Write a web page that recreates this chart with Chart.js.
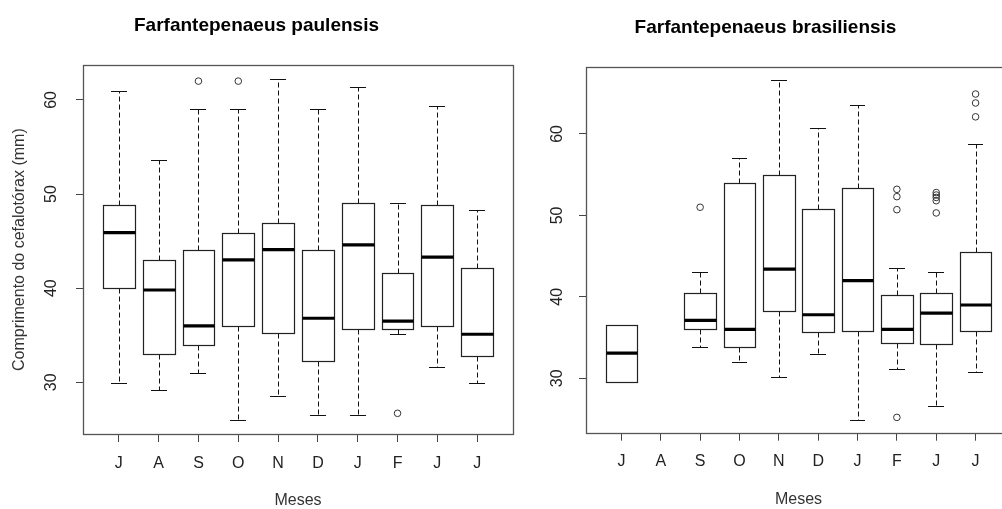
<!DOCTYPE html>
<html><head><meta charset="utf-8">
<script src="https://cdn.jsdelivr.net/npm/chart.js@4.4.1/dist/chart.umd.min.js"></script>
<style>
html,body{margin:0;padding:0;background:#fff;overflow:hidden;width:1002px;height:509px}
#wrap{position:relative;width:1002px;height:509px;overflow:hidden;background:#fff}
.box{position:absolute;top:0;height:509px}
#c1box{left:0;width:520px}
#c2box{left:520px;width:520px}
canvas{display:block}
</style></head><body>
<div id="wrap">
<div class="box" id="c1box"><canvas id="c1" width="520" height="509"></canvas></div>
<div class="box" id="c2box"><canvas id="c2" width="520" height="509"></canvas></div>
</div>
<script>
// ---- shared labels ----
const months = ['J','A','S','O','N','D','J','F','J','J'];
const yTicks = [30, 40, 50, 60];
const yTitle = 'Comprimento do cefalotórax (mm)';
const xTitle = 'Meses';

// ---- Farfantepenaeus paulensis ----
const pauTitle = 'Farfantepenaeus paulensis';
const pauLow  = [29.9, 29.2, 31.0, 26.0, 28.5, 26.5, 26.5, 35.1, 31.6, 29.9];
const pauQ1   = [40.0, 33.0, 34.0, 36.0, 35.2, 32.3, 35.7, 35.7, 36.0, 32.8];
const pauMed  = [45.9, 39.8, 36.0, 43.0, 44.1, 36.8, 44.6, 36.5, 43.3, 35.1];
const pauQ3   = [48.8, 43.0, 44.0, 45.9, 46.9, 44.1, 49.0, 41.6, 48.8, 42.1];
const pauHigh = [61.0, 53.6, 59.0, 59.0, 62.2, 59.0, 61.4, 49.0, 59.4, 48.3];
const pauOutMonth = [3, 4, 8];
const pauOutValue = [62.0, 62.0, 26.7];

// ---- Farfantepenaeus brasiliensis ----
const braTitle = 'Farfantepenaeus brasiliensis';
const braLow  = [29.6, null, 33.9, 32.0, 30.1, 33.0, 24.9, 31.1, 26.6, 30.8];
const braQ1   = [29.6, null, 36.0, 33.9, 38.2, 35.7, 35.8, 34.3, 34.2, 35.8];
const braMed  = [33.1, null, 37.1, 36.0, 43.4, 37.8, 42.0, 36.0, 38.0, 39.0];
const braQ3   = [36.5, null, 40.5, 54.0, 54.9, 50.8, 53.4, 40.2, 40.5, 45.5];
const braHigh = [36.5, null, 43.0, 57.0, 66.6, 60.7, 63.5, 43.5, 43.1, 58.8];
const braOutMonth = [3, 8, 8, 8, 8, 9, 9, 9, 9, 9, 10, 10, 10];
const braOutValue = [51.0, 53.2, 52.3, 50.7, 25.2, 52.8, 52.5, 52.2, 51.8, 50.3, 64.9, 63.8, 62.1];

const FONT = '"Liberation Sans", Arial, Helvetica, sans-serif';

function boxPlugin(s) {
  return {
    id: 'boxes',
    beforeDatasetsDraw(chart) {
      const {ctx, chartArea: a, scales: {x, y}} = chart;
      ctx.save();
      ctx.beginPath();
      ctx.rect(a.left, a.top, a.right - a.left, a.bottom - a.top);
      ctx.clip();
      const hw = x.getPixelForValue(1.4) - x.getPixelForValue(1);
      const r = v => Math.round(v) + 0.5;
      for (let i = 0; i < s.med.length; i++) {
        if (s.med[i] == null) continue;
        const cx = x.getPixelForValue(i + 1);
        const yl = r(y.getPixelForValue(s.low[i]));
        const y1 = r(y.getPixelForValue(s.q1[i]));
        const ym = y.getPixelForValue(s.med[i]);
        const y3 = r(y.getPixelForValue(s.q3[i]));
        const yh = r(y.getPixelForValue(s.high[i]));
        const L = r(cx - hw), R = r(cx + hw), C = r(cx);
        ctx.strokeStyle = '#111';
        ctx.lineWidth = 1;
        // whiskers (dashed)
        ctx.setLineDash([5, 3]);
        ctx.beginPath();
        if (s.high[i] > s.q3[i]) { ctx.moveTo(C, y3); ctx.lineTo(C, yh); }
        if (s.low[i] < s.q1[i]) { ctx.moveTo(C, y1); ctx.lineTo(C, yl); }
        ctx.stroke();
        ctx.setLineDash([]);
        // staples
        ctx.beginPath();
        const sw = hw / 2;
        if (s.high[i] > s.q3[i]) { ctx.moveTo(Math.round(cx - sw), yh); ctx.lineTo(Math.round(cx + sw), yh); }
        if (s.low[i] < s.q1[i]) { ctx.moveTo(Math.round(cx - sw), yl); ctx.lineTo(Math.round(cx + sw), yl); }
        ctx.stroke();
        // box
        ctx.strokeStyle = '#222';
        ctx.lineWidth = 1.2;
        ctx.strokeRect(L, y3, R - L, y1 - y3);
        // median
        ctx.strokeStyle = '#000';
        ctx.lineWidth = 3.2;
        ctx.beginPath();
        ctx.moveTo(L, ym); ctx.lineTo(R, ym);
        ctx.stroke();
      }
      ctx.restore();
    },
    afterDraw(chart) {
      const {ctx, chartArea: a, scales: {y}} = chart;
      ctx.save();
      // frame
      ctx.strokeStyle = '#555';
      ctx.lineWidth = 1.3;
      ctx.strokeRect(Math.round(a.left) + 0.5, Math.round(a.top) + 0.5,
                     Math.round(a.right - a.left), Math.round(a.bottom - a.top));
      // rotated y tick labels
      ctx.fillStyle = '#222';
      ctx.font = '16px ' + FONT;
      ctx.textAlign = 'center';
      ctx.textBaseline = 'middle';
      for (const t of y.ticks) {
        const py = y.getPixelForValue(t.value);
        ctx.save();
        ctx.translate(a.left - s.labelOffset, py);
        ctx.rotate(-Math.PI / 2);
        ctx.fillText(String(t.value), 0, 0);
        ctx.restore();
      }
      ctx.restore();
    }
  };
}

function makeChart(id, o) {
  const outliers = o.outMonth.map((m, i) => ({x: m, y: o.outValue[i]}));
  return new Chart(document.getElementById(id), {
    type: 'scatter',
    data: {
      datasets: [{
        data: outliers,
        pointStyle: 'circle',
        pointRadius: 3.3,
        pointHoverRadius: 3.3,
        borderColor: '#333',
        borderWidth: 1,
        backgroundColor: 'rgba(0,0,0,0)'
      }]
    },
    options: {
      responsive: false,
      animation: false,
      events: [],
      layout: {padding: {left: 0, right: o.padRight, top: 0, bottom: 0}},
      plugins: {
        legend: {display: false},
        tooltip: {enabled: false},
        title: {
          display: true,
          text: o.title,
          color: '#000',
          font: {family: FONT, size: 19, weight: 'bold', lineHeight: 1.2},
          padding: {top: o.titleTop, bottom: o.titleBottom}
        }
      },
      scales: {
        x: {
          type: 'linear',
          min: 0.1, max: 10.9,
          afterBuildTicks: sc => { sc.ticks = months.map((m, i) => ({value: i + 1})); },
          afterFit: sc => { sc.height = o.xAxisHeight; },
          ticks: {
            autoSkip: false, maxRotation: 0, minRotation: 0,
            callback: v => months[v - 1],
            color: '#222',
            font: {family: FONT, size: 16},
            padding: o.xTickPad
          },
          grid: {drawOnChartArea: false, drawTicks: true, tickLength: 8, color: '#444', lineWidth: 1},
          border: {display: false},
          title: {
            display: true, text: xTitle, color: '#333',
            font: {family: FONT, size: 16, lineHeight: 1},
            padding: {top: 0, bottom: o.xTitlePad}
          }
        },
        y: {
          type: 'linear',
          min: o.yMin, max: o.yMax,
          afterBuildTicks: sc => { sc.ticks = yTicks.map(v => ({value: v})); },
          afterFit: sc => { sc.width = o.yAxisWidth; },
          ticks: {display: false},
          grid: {drawOnChartArea: false, drawTicks: true, tickLength: 7, color: '#444', lineWidth: 1},
          border: {display: false},
          title: {
            display: o.showYTitle, text: yTitle, color: '#333',
            font: {family: FONT, size: 16},
            padding: {top: 10, bottom: 0}
          }
        }
      }
    },
    plugins: [boxPlugin({low: o.low, q1: o.q1, med: o.med, q3: o.q3, high: o.high, labelOffset: o.labelOffset})]
  });
}

makeChart('c1', {
  title: pauTitle, low: pauLow, q1: pauQ1, med: pauMed, q3: pauQ3, high: pauHigh,
  outMonth: pauOutMonth, outValue: pauOutValue,
  yMin: 24.5, yMax: 63.68, yAxisWidth: 83, xAxisHeight: 75, padRight: 7,
  titleTop: 14.5, titleBottom: 28, xTickPad: 12, xTitlePad: 0.5,
  showYTitle: true, labelOffset: 31
});

makeChart('c2', {
  title: braTitle, low: braLow, q1: braQ1, med: braMed, q3: braQ3, high: braHigh,
  outMonth: braOutMonth, outValue: braOutValue,
  yMin: 23.32, yMax: 68.23, yAxisWidth: 66, xAxisHeight: 76.3, padRight: 29,
  titleTop: 16, titleBottom: 28.1, xTickPad: 11, xTitlePad: 1.5,
  showYTitle: false, labelOffset: 28
});
</script>
</body></html>
